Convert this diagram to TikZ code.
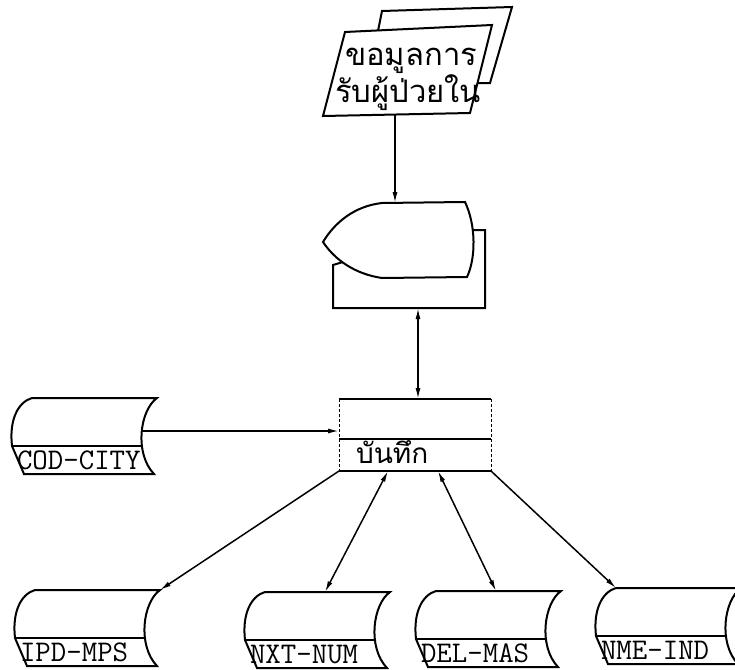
\documentclass[tikz,border=0pt]{standalone}
\usepackage{fontspec}
\usepackage{tikz}
\usetikzlibrary{arrows.meta}
\usetikzlibrary{calc}
\newfontfamily\thaifont[Script=Thai]{Loma}
\tikzset{flow/.style = {line width = 1.5pt, -{Latex[length = 11pt, width = 5pt]}}}
\tikzset{flowboth/.style = {line width = 1.5pt, {Latex[length = 11pt, width = 5pt]}-{Latex[length = 11pt, width = 5pt]}}}
\tikzset{filetext/.style = {anchor = base west, inner sep = 0, font = {\ttfamily\fontsize{30}{34}\selectfont}}}
\tikzset{thaitext/.style = {anchor = base west, inner sep = 0, font = {\thaifont\fontsize{31}{36}\selectfont}}}

\newcommand{\diskfile}[3]{%
    \begin{scope}[shift = {#2}]
        \draw (20, 0) -- (145, 0) .. controls (128, 12) and (122, 55) .. (142, 76)
              -- (12, 76) -- (0, 48) .. controls (-3, 22) and (6, 4) .. (20, 0);
        \draw (0, 48) -- (130, 48);
        \coordinate (#1-nw) at (20, 0);
        \coordinate (#1-n) at (80, 0);
        \coordinate (#1-ne) at (145, 0);
        \coordinate (#1-e) at (130, 33);
        \node [filetext] (#1) at (4, 71) {#3};
    \end{scope}}

\begin{document}
\begin{tikzpicture}[x = 1pt, y = -1pt, line width = 2pt]
    \useasboundingbox (0, 0) rectangle (735, 669);

    \draw (378, 31) -- (382, 11) -- (512, 7) -- (490, 83) -- (477, 83);
    \draw (345, 32) -- (492, 25) -- (470, 113) -- (323, 116) -- cycle;
    \node [thaitext] (doc-1) at (344, 65) {ขอมูลการ};
    \node [thaitext] (doc-2) at (334, 102) {รับผู้ป่วยใน};
    \coordinate (doc-s) at (395, 115);

    \draw (343, 262) -- (333, 265) -- (333, 308) -- (485, 308) -- (485, 230) -- (473, 230);
    \draw (382, 203) -- (465, 202) .. controls (476, 225) and (476, 258) .. (467, 277)
          -- (382, 278) .. controls (355, 274) and (335, 260) .. (323, 242)
          .. controls (335, 222) and (355, 206) .. (382, 203) -- cycle;
    \coordinate (disp-n) at (395, 203);
    \coordinate (term-s) at (418, 308);

    \node [minimum width = 150pt, minimum height = 70pt, inner sep = 0] (rec) at (415, 435) {};
    \draw (rec.north west) -- (rec.north east);
    \draw (rec.south west) -- (rec.south east);
    \draw [thin, densely dashed] (rec.north west) -- (rec.south west);
    \draw [thin, densely dashed] (rec.north east) -- (rec.south east);
    \draw ([yshift = -40pt] rec.north west) -- ([yshift = -40pt] rec.north east);
    \node [thaitext, font = {\thaifont\fontsize{28}{32}\selectfont}] (rec-text) at (355, 463) {บันทึก};

    \diskfile{cod}{(12, 398)}{COD-CITY}
    \diskfile{ipd}{(15, 590)}{IPD-MPS}
    \diskfile{nxt}{(245, 592)}{NXT-NUM}
    \diskfile{del}{(416, 591)}{DEL-MAS}
    \diskfile{nme}{(596, 588)}{NME-IND}

    \draw [flow] (doc-s) -- (disp-n);
    \draw [flowboth] (term-s) -- (term-s |- rec.north);
    \draw [flow] (cod-e) -- (cod-e -| rec.west);
    \draw [flow] (rec.south west) -- (ipd-ne);
    \draw [flowboth] ([xshift = -27pt] rec.south) -- (nxt-n);
    \draw [flowboth] ([xshift = 23pt] rec.south) -- (del-n);
    \draw [flow] (rec.south east) -- (nme-nw);
\end{tikzpicture}
\end{document}
